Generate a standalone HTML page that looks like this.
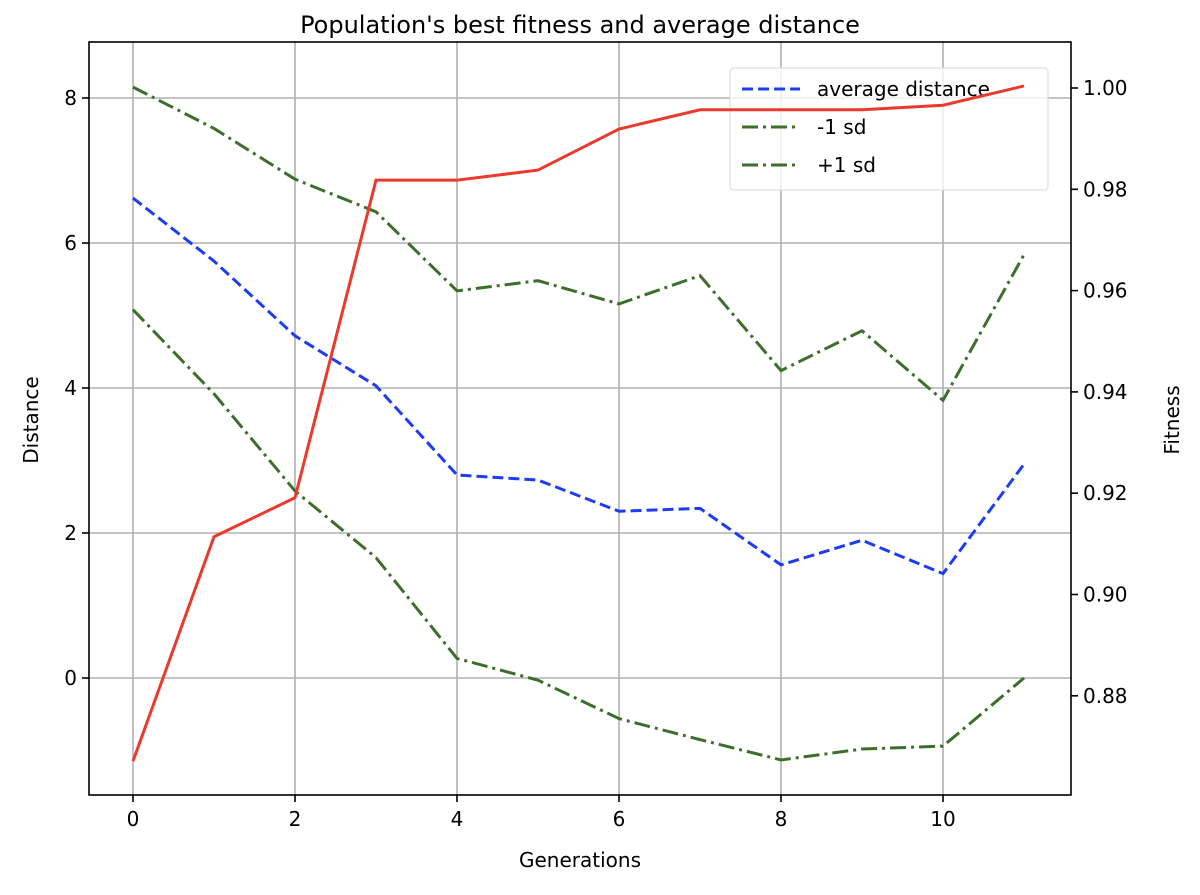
<!DOCTYPE html>
<html><head><meta charset="utf-8"><style>
body{margin:0;background:#fff}
svg{font-family:"DejaVu Sans","Liberation Sans",sans-serif}
</style></head><body>
<svg id="chart" width="1200" height="890" xmlns="http://www.w3.org/2000/svg"></svg>
<script>
const generations=[0,1,2,3,4,5,6,7,8,9,10,11];
const avgDistance=[6.62,5.75,4.72,4.03,2.80,2.73,2.30,2.34,1.56,1.90,1.44,2.95];
const plusSd=[8.15,7.58,6.88,6.43,5.34,5.48,5.16,5.55,4.24,4.79,3.83,5.84];
const minusSd=[5.08,3.92,2.58,1.66,0.27,-0.03,-0.56,-0.85,-1.13,-0.98,-0.94,0.00];
const fitness=[0.8671,0.9114,0.9191,0.9818,0.9818,0.9838,0.9919,0.9957,0.9957,0.9957,0.9966,1.0004];
const xTicks=[0,2,4,6,8,10];
const yTicks=[0,2,4,6,8];
const fTicks=[0.88,0.90,0.92,0.94,0.96,0.98,1.00];

const NS="http://www.w3.org/2000/svg";
const svg=document.getElementById('chart');
const L=89,R=1071,T=42,B=795;
const xs=g=>133+g*81;
const ys=v=>678-v*72.5;
const fs=f=>88+(1.00-f)/0.02*101.3;
function el(t,a,txt){const e=document.createElementNS(NS,t);for(const k in a)e.setAttribute(k,a[k]);if(txt!=null)e.textContent=txt;svg.appendChild(e);return e;}

xTicks.forEach(t=>{const e=el('line',{x1:xs(t),x2:xs(t),y1:T,y2:B,stroke:'#b0b0b0','stroke-width':1.6});

});
yTicks.forEach(t=>{const e=el('line',{x1:L,x2:R,y1:ys(t),y2:ys(t),stroke:'#b0b0b0','stroke-width':1.6});

});

function poly(vals,fn,stroke,dash,name){
 const pts=vals.map((v,i)=>xs(generations[i])+','+fn(v)).join(' ');
 const e=el('polyline',{points:pts,fill:'none',stroke:stroke,'stroke-width':3,'stroke-dasharray':dash});
 
 
}
poly(avgDistance,ys,'#1f3cf5','11,5','average-distance-line');
poly(minusSd,ys,'#3d6e2c','16,5,3,5','minus-1-sd-line');
poly(plusSd,ys,'#3d6e2c','16,5,3,5','plus-1-sd-line');

let e;
e=el('rect',{x:730,y:68,width:318,height:122,rx:4,fill:'rgba(255,255,255,0.8)',stroke:'#e0e0e0','stroke-width':1.3});


const items=[['average distance','#1f3cf5','11,5'],['-1 sd','#3d6e2c','16,5,3,5'],['+1 sd','#3d6e2c','16,5,3,5']];
items.forEach((it,i)=>{const y=89+i*38;
el('line',{x1:742,x2:800,y1:y,y2:y,stroke:it[1],'stroke-width':3,'stroke-dasharray':it[2]});
const t=el('text',{x:817,y:y+7,'font-size':20},it[0]);

});

poly(fitness,fs,'#ea3a2e','','best-fitness-line');

const fr=el('rect',{x:L,y:T,width:R-L,height:B-T,fill:'none',stroke:'#000','stroke-width':1.6});



xTicks.forEach(t=>{el('line',{x1:xs(t),x2:xs(t),y1:B,y2:B+7,stroke:'#000','stroke-width':1.6});
const e=el('text',{x:xs(t),y:B+31,'text-anchor':'middle','font-size':20},String(t));

});
yTicks.forEach(t=>{el('line',{x1:L-7,x2:L,y1:ys(t),y2:ys(t),stroke:'#000','stroke-width':1.6});
const e=el('text',{x:L-12,y:ys(t)+7,'text-anchor':'end','font-size':20},String(t));

});
fTicks.forEach(t=>{el('line',{x1:R,x2:R+7,y1:fs(t),y2:fs(t),stroke:'#000','stroke-width':1.6});
const e=el('text',{x:R+12,y:fs(t)+7,'text-anchor':'start','font-size':20},t.toFixed(2));

});

e=el('text',{x:580,y:33,'text-anchor':'middle','font-size':24},"Population's best fitness and average distance");


e=el('text',{x:580,y:867,'text-anchor':'middle','font-size':20},'Generations');


e=el('text',{x:0,y:0,'text-anchor':'middle','font-size':20,transform:'translate(38,420) rotate(-90)'},'Distance');


e=el('text',{x:0,y:0,'text-anchor':'middle','font-size':20,transform:'translate(1179,420) rotate(-90)'},'Fitness');


</script>
</body></html>
